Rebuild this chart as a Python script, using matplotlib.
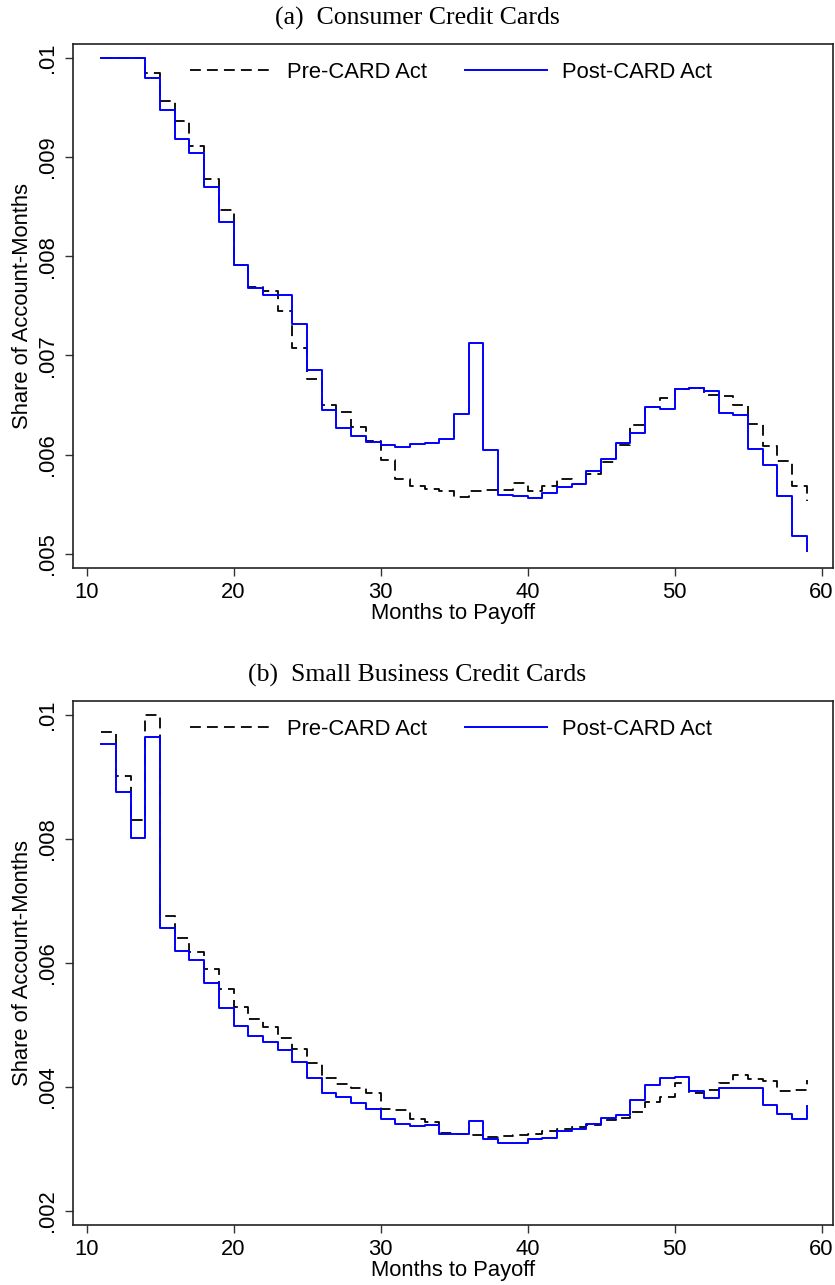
import matplotlib
matplotlib.use("Agg")
import matplotlib.pyplot as plt

# ---------------- data ----------------
months = list(range(11, 60))

consumer_pre = [0.0100, 0.0100, 0.0100, 0.00985, 0.00956, 0.00936, 0.00911, 0.00878, 0.00846, 0.00791,
                0.00769, 0.00765, 0.00745, 0.00707, 0.00676, 0.00650, 0.00643, 0.00628, 0.00614, 0.00594,
                0.00575, 0.00568, 0.00565, 0.00563, 0.00557, 0.00563, 0.00564, 0.00564, 0.00571, 0.00563,
                0.00568, 0.00575, 0.00570, 0.00580, 0.00592, 0.00610, 0.00630, 0.00648, 0.00657, 0.00666,
                0.00667, 0.00660, 0.00659, 0.00650, 0.00631, 0.00609, 0.00593, 0.00568, 0.00553]
consumer_post = [0.0100, 0.0100, 0.0100, 0.00980, 0.00947, 0.00918, 0.00904, 0.00870, 0.00834, 0.00791,
                 0.00768, 0.00761, 0.00761, 0.00732, 0.00685, 0.00645, 0.00627, 0.00619, 0.00613, 0.00610,
                 0.00608, 0.00611, 0.00612, 0.00616, 0.00641, 0.00712, 0.00605, 0.00559, 0.00558, 0.00556,
                 0.00561, 0.00567, 0.00570, 0.00583, 0.00595, 0.00612, 0.00622, 0.00648, 0.00646, 0.00666,
                 0.00667, 0.00664, 0.00642, 0.00640, 0.00606, 0.00589, 0.00558, 0.00518, 0.00503]

business_pre = [0.00972, 0.00902, 0.00830, 0.01000, 0.00676, 0.00641, 0.00617, 0.00590, 0.00558, 0.00529,
                0.00509, 0.00497, 0.00479, 0.00461, 0.00438, 0.00414, 0.00405, 0.00398, 0.00390, 0.00364,
                0.00363, 0.00348, 0.00344, 0.00326, 0.00324, 0.00323, 0.00320, 0.00321, 0.00323, 0.00324,
                0.00329, 0.00332, 0.00335, 0.00339, 0.00347, 0.00350, 0.00359, 0.00376, 0.00384, 0.00406,
                0.00390, 0.00395, 0.00406, 0.00420, 0.00413, 0.00409, 0.00394, 0.00396, 0.00411]
business_post = [0.00953, 0.00875, 0.00802, 0.00965, 0.00656, 0.00619, 0.00605, 0.00568, 0.00527, 0.00499,
                 0.00482, 0.00472, 0.00460, 0.00441, 0.00415, 0.00391, 0.00384, 0.00374, 0.00365, 0.00348,
                 0.00341, 0.00337, 0.00339, 0.00324, 0.00324, 0.00346, 0.00317, 0.00310, 0.00310, 0.00316,
                 0.00318, 0.00329, 0.00333, 0.00341, 0.00350, 0.00355, 0.00379, 0.00404, 0.00415, 0.00416,
                 0.00394, 0.00382, 0.00398, 0.00399, 0.00399, 0.00371, 0.00356, 0.00349, 0.00370]

xticks = [10, 20, 30, 40, 50, 60]
top_yticks = [0.005, 0.006, 0.007, 0.008, 0.009, 0.010]
top_yticklabels = [".005", ".006", ".007", ".008", ".009", ".01"]
bot_yticks = [0.002, 0.004, 0.006, 0.008, 0.010]
bot_yticklabels = [".002", ".004", ".006", ".008", ".01"]

titles = ["(a)  Consumer Credit Cards", "(b)  Small Business Credit Cards"]
xlabel = "Months to Payoff"
ylabel = "Share of Account-Months"
legend_labels = ["Pre-CARD Act", "Post-CARD Act"]

# ---------------- plot ----------------
SANS = ["Liberation Sans", "DejaVu Sans"]
SERIF = ["Liberation Serif", "DejaVu Serif"]
plt.rcParams["font.family"] = SANS
FS = 15.8

fig = plt.figure(figsize=(8.35, 12.85), dpi=100)
W, H = 835, 1285

def axrect(l, t, r, b):
    return [l / W, 1 - b / H, (r - l) / W, (b - t) / H]

panels = [
    dict(rect=axrect(73.3, 43.6, 833, 568), pre=consumer_pre, post=consumer_post,
         yticks=top_yticks, ylabels=top_yticklabels, ylim=(0.004856, 0.010142), title_y=18),
    dict(rect=axrect(73.3, 700.7, 833, 1224.7), pre=business_pre, post=business_post,
         yticks=bot_yticks, ylabels=bot_yticklabels, ylim=(0.00178, 0.01023), title_y=675),
]

for i, p in enumerate(panels):
    ax = fig.add_axes(p["rect"])
    l_pre, = ax.step(months, p["pre"], where="post", color="black", lw=1.3)
    l_pre.set_dashes((6.0, 3.4))
    l_post, = ax.step(months, p["post"], where="post", color="#0000ff", lw=1.4)
    ax.set_xlim(9.1, 60.78)
    ax.set_ylim(*p["ylim"])
    ax.set_xticks(xticks)
    ax.set_xticklabels([str(t) for t in xticks])
    ax.set_yticks(p["yticks"])
    ax.set_yticklabels(p["ylabels"], rotation=90, va="center")
    ax.tick_params(axis="both", direction="out", length=6, width=1.0, labelsize=FS, pad=4,
                   color="#333333")
    ax.tick_params(axis="y", pad=5)
    for s in ax.spines.values():
        s.set_linewidth(1.2)
        s.set_color("#222222")
    ax.set_xlabel(xlabel, fontsize=FS, labelpad=0)
    ax.set_ylabel(ylabel, fontsize=FS, labelpad=3)
    leg = ax.legend([l_pre, l_post], legend_labels, loc="center left",
                    bbox_to_anchor=((190 - 73.3) / 759.7, 0.9458), ncol=2, frameon=False,
                    fontsize=FS, handlelength=3.75, handletextpad=0.68, columnspacing=1.7,
                    borderpad=0, borderaxespad=0)
    fig.text(0.5, 1 - p["title_y"] / H, titles[i], ha="center", va="center",
             fontsize=18.5, family=SERIF)

fig.savefig("out.png", dpi=100)
